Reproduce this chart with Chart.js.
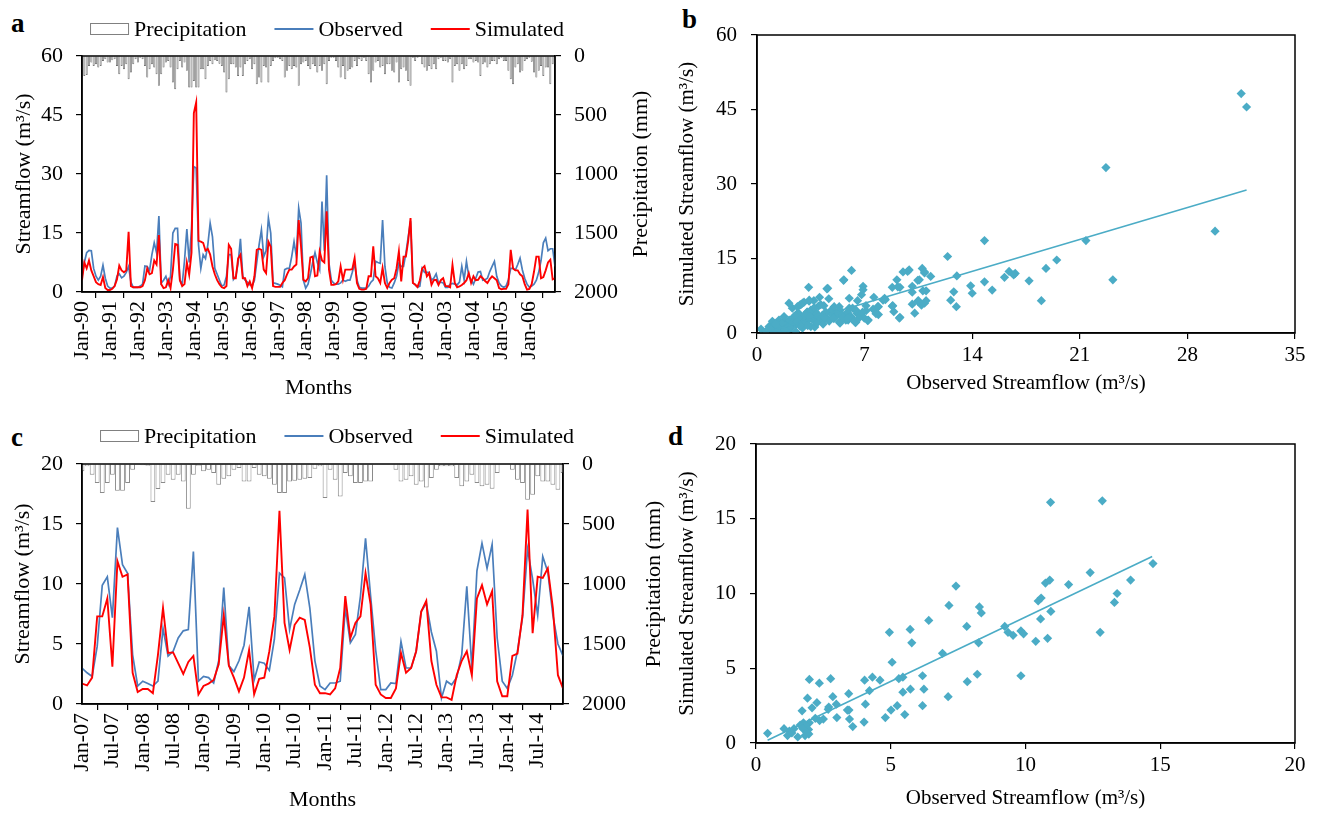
<!DOCTYPE html>
<html><head><meta charset="utf-8">
<script src="https://cdn.jsdelivr.net/npm/chart.js@4.4.1/dist/chart.umd.min.js"></script>
<style>
body{margin:0;background:#fff;width:1317px;height:813px;overflow:hidden;position:relative;font-family:"Liberation Serif","Times New Roman",serif}
canvas{position:absolute}
.lbl{position:absolute;font:bold 27px "Liberation Serif","Times New Roman",serif;color:#000;line-height:27px}
</style></head><body>
<div class="lbl" style="left:11px;top:10px">a</div>
<div class="lbl" style="left:682px;top:6px">b</div>
<div class="lbl" style="left:11px;top:424px">c</div>
<div class="lbl" style="left:668px;top:423px">d</div>
<canvas id="ca" style="left:0;top:0;width:660px;height:410px" width="660" height="410"></canvas>
<canvas id="cb" style="left:660px;top:0;width:657px;height:405px" width="657" height="405"></canvas>
<canvas id="cc" style="left:0;top:405px;width:674px;height:408px" width="674" height="408"></canvas>
<canvas id="cd" style="left:660px;top:405px;width:657px;height:408px" width="657" height="408"></canvas>
<script>
// ---------- Panel a: monthly 1990-2006 ----------
const tickLabelsA = ['Jan-90','Jan-91','Jan-92','Jan-93','Jan-94','Jan-95','Jan-96','Jan-97','Jan-98','Jan-99','Jan-00','Jan-01','Jan-02','Jan-03','Jan-04','Jan-05','Jan-06'];
const observedA = [
4.0,7.5,10.0,10.6,10.5,6.0,4.0,3.0,4.0,6.8,3.5,1.5,
1.0,1.0,1.5,4.0,4.6,3.6,4.0,5.0,6.5,2.5,1.2,1.2,
1.2,1.5,2.0,6.6,6.5,5.5,9.5,12.5,10.0,19.3,2.3,3.0,
4.0,2.0,4.0,15.0,16.2,16.2,3.0,2.0,8.0,16.0,7.5,16.0,
31.85,31.5,12.0,6.0,9.5,8.5,12.0,17.5,14.0,6.0,4.5,3.0,
1.5,1.8,4.0,9.5,9.5,3.2,4.0,7.3,13.5,4.0,3.0,2.5,
1.8,1.5,3.0,7.5,12.0,15.8,9.0,10.5,18.8,15.0,2.3,2.2,
2.0,1.7,1.3,5.7,6.0,6.0,9.0,12.8,9.0,21.3,17.5,3.0,
1.0,2.0,4.5,7.5,10.0,7.5,5.7,23.0,10.5,29.7,7.3,3.0,
2.3,2.0,2.0,2.3,3.1,2.7,3.0,3.0,5.0,7.3,3.1,1.2,
1.0,1.0,1.0,1.5,2.5,3.1,7.8,7.5,7.3,18.3,6.5,2.3,
1.2,1.0,2.3,4.0,7.3,6.5,6.5,9.8,14.0,18.0,2.3,1.8,
1.2,1.5,6.0,5.0,5.0,5.0,3.0,3.5,4.6,2.3,2.5,2.3,
1.2,1.2,2.0,2.2,2.0,1.8,2.5,6.5,3.1,7.8,4.0,3.1,
2.0,3.5,5.1,5.2,3.0,3.1,3.5,5.2,6.5,7.8,4.0,2.3,
1.5,1.2,1.5,3.1,6.0,6.0,5.6,7.0,8.6,5.6,3.5,2.0,
1.2,1.5,2.0,3.0,5.0,8.0,12.5,13.7,10.5,11.0,11.0,6.5];
const simulatedA = [
3.0,7.5,6.0,8.0,5.5,4.0,2.5,2.0,1.8,3.8,1.0,0.5,
0.5,0.8,1.5,3.2,6.7,5.5,5.0,5.5,15.3,1.5,1.2,1.2,
1.2,1.2,1.5,3.0,6.0,4.5,4.8,8.0,7.0,14.5,2.0,1.0,
1.2,3.0,1.0,5.6,12.2,12.0,3.0,1.5,2.0,7.5,4.4,10.0,
45.5,48.2,13.0,12.8,12.5,10.5,11.0,9.5,6.5,4.5,3.0,2.0,
1.2,1.0,1.5,12.0,11.0,3.5,3.5,8.5,9.5,3.5,3.5,1.5,
2.7,1.0,4.0,10.7,11.0,10.7,5.7,4.8,12.8,11.5,1.5,1.3,
1.3,1.3,2.3,3.0,4.5,5.7,5.7,6.5,7.0,18.3,11.5,3.1,
2.7,3.5,8.8,9.0,4.0,4.2,10.3,8.0,7.5,20.5,5.7,1.8,
1.8,2.0,2.7,6.5,3.1,5.7,5.7,5.7,5.8,8.6,2.3,0.8,
0.6,0.6,0.8,4.0,4.0,11.6,4.0,3.5,2.3,6.1,2.3,1.0,
2.3,3.1,3.5,6.0,10.3,2.7,9.0,9.0,13.0,18.8,2.3,1.9,
1.3,3.0,6.0,6.6,4.0,4.8,1.8,3.0,3.1,1.8,3.0,3.5,
1.5,1.5,1.2,6.9,2.3,1.2,1.4,1.8,2.3,3.0,4.8,2.3,
4.0,3.0,3.1,4.0,3.5,2.8,2.3,3.3,4.0,3.5,3.0,1.0,
0.7,0.8,0.8,2.0,10.7,6.0,5.5,5.5,4.5,4.0,2.0,0.6,
0.8,2.0,5.2,9.0,9.0,3.5,3.8,5.5,7.5,8.2,3.2,3.5];
const precipitationA = [
177,169,160,84,56,84,70,98,84,42,28,56,
56,37,28,84,155,84,112,70,197,140,70,28,
56,14,28,84,183,112,70,98,155,253,155,98,
56,42,98,225,281,112,42,98,56,126,267,267,
211,267,267,112,112,197,84,42,70,37,42,65,
84,140,309,197,70,70,98,169,98,169,70,42,
28,112,70,239,183,225,84,98,225,84,42,20,
14,28,42,183,126,84,112,84,98,253,70,56,
42,84,112,70,84,140,84,126,70,239,42,14,
14,42,98,183,84,197,126,112,98,42,84,28,
42,14,42,155,225,126,56,42,98,84,155,70,
70,126,140,56,225,112,98,126,211,253,14,42,
14,5,70,98,126,84,112,70,112,28,14,42,
42,56,28,225,84,70,126,70,112,84,28,28,
56,42,56,169,70,56,98,70,42,42,70,28,
14,42,42,126,197,239,98,70,140,126,42,28,
14,48,140,183,126,84,169,98,98,239,70,70];

// ---------- Panel c: monthly 2007-2014 ----------
const tickLabelsC = ['Jan-07','Jul-07','Jan-08','Jul-08','Jan-09','Jul-09','Jan-10','Jul-10','Jan-11','Jul-11','Jan-12','Jul-12','Jan-13','Jul-13','Jan-14','Jul-14'];
const observedC = [
3.0,2.6,2.3,4.8,9.9,10.6,7.2,14.7,11.6,10.9,4.1,1.5,
1.9,1.7,1.5,1.9,6.3,4.0,4.4,5.5,6.1,6.2,12.7,1.9,
2.3,2.2,1.75,3.6,9.7,3.2,2.7,3.6,4.9,8.1,2.0,3.5,
3.4,2.8,5.4,10.9,10.5,6.2,8.3,9.5,10.8,8.0,3.6,1.5,
1.2,1.75,1.75,1.9,8.0,5.1,5.8,9.0,13.8,9.0,4.5,1.2,
1.2,1.75,1.7,5.2,3.0,3.0,4.4,7.7,8.4,6.0,4.4,0.5,
1.9,1.6,2.2,4.1,9.8,3.0,11.1,13.4,11.3,13.3,5.5,1.9,
1.3,2.4,4.4,7.2,12.9,10.4,7.4,12.3,11.0,7.4,5.0,4.0];
const simulatedC = [
1.7,1.55,2.2,7.3,7.3,8.8,3.1,11.9,10.6,10.8,2.6,1.0,
1.25,1.25,0.9,4.1,8.0,4.25,4.3,3.4,2.5,3.5,4.0,0.8,
1.5,1.7,2.0,3.3,7.4,3.2,2.2,1.05,2.2,4.5,0.8,2.1,
2.2,4.4,7.3,16.1,6.75,4.5,6.6,7.2,7.0,4.7,1.6,0.9,
0.9,0.8,1.3,3.0,9.0,5.5,6.75,7.3,10.9,8.3,1.6,0.8,
0.5,0.5,1.3,4.25,2.6,3.0,4.4,7.7,8.6,3.6,1.6,0.55,
0.55,0.35,2.4,3.6,4.4,2.4,8.8,9.9,8.3,9.4,1.9,0.65,
0.65,4.0,4.2,7.4,16.2,5.9,10.6,10.5,11.3,8.0,2.4,1.3];
const precipitationC = [
61,19,89,158,242,158,89,222,222,158,47,6,
11,14,317,208,158,89,131,89,145,372,89,14,
61,47,75,172,122,103,47,33,145,145,33,89,
103,122,172,242,242,145,139,131,122,117,39,19,
284,47,131,270,75,103,158,158,145,145,6,6,
6,6,47,145,131,103,172,145,195,117,47,19,
19,19,117,186,145,89,158,186,172,206,75,6,
6,47,131,158,297,256,103,145,145,172,214,75];

// ---------- Panel b: scatter (calibration) ----------
const observedB = [31.5,31.85,22.7,29.8,23.15,21.4,19.5,18.8,18.5,17.7,16.8,16.4,16.7,16.1,15.3,14.8,14.8,14.0,13.9,13.0,12.97,12.8,12.6,12.4,11.3,11.0,11.0,10.9,10.75,10.56,10.5,10.7,10.26,10.1,10.1,10.1,9.9,9.8,9.5,9.3,9.3,9.1,8.8,8.9,8.8,8.3,8.2,7.9,7.9,7.6,7.55,7.24,7.1,6.9,6.9,6.8,6.54,6.5,6.4,6.15,6.0,6.0,5.93,5.65,5.4,5.4,5.2,4.86,4.67,4.6,4.44,4.35,4.07,4.0,3.76,3.7,3.36,3.4,3.25,3.06,2.78,2.64,2.08,2.4,2.24,1.8,1.7,1.05,0.26,1.35,
1.0,1.2,1.54,1.65,1.87,2.09,2.2,2.41,2.52,2.74,2.85,2.96,3.07,3.17,3.28,3.39,3.5,3.61,3.72,3.83,3.94,4.15,4.26,4.48,4.59,4.8,4.91,5.13,5.24,5.35,5.57,5.78,5.89,6.11,6.22,6.44,6.65,6.87,6.44,1.43,1.76,2.3,2.63,2.96,3.5,0.78,0.57,1.1,2.0,2.52,1.54,5.35,5.02,7.09,
5.63,4.55,2.85,3.39,3.72,4.15,6.98,7.2,7.74,7.85,8.35,8.83,9.16,9.26,10.46,10.46,10.9,10.79,10.9,
1.3,1.9,2.3,2.7,3.0,3.3,3.9,4.3,4.7,5.0,1.6,2.1,2.5,2.8,3.1,3.6,4.0,4.4,0.9,1.4,1.8,1.2,2.6,3.4,5.6,6.2,6.6,5.9];
const simulatedB = [48.2,45.5,33.3,20.5,10.7,18.6,14.7,13.0,6.5,10.5,12.0,12.4,11.7,11.2,8.65,10.3,18.6,8.0,9.5,11.5,5.3,8.3,6.6,15.4,11.4,8.5,6.5,12.3,13.0,10.7,6.5,5.6,4.0,9.4,8.2,5.8,12.7,12.4,12.3,3.15,9.2,10.7,9.2,4.3,5.4,7.0,6.6,5.3,3.7,7.2,4.8,2.6,4.5,9.4,8.7,7.7,6.5,4.0,2.1,12.6,7.0,5.0,2.6,10.7,2.0,4.6,4.0,4.7,6.9,9.0,2.95,5.5,7.2,5.4,1.2,6.5,9.2,6.6,4.2,6.2,5.6,4.0,6.0,2.6,1.7,2.35,1.2,2.0,0.8,0.3,
2.36,1.0,1.3,0.3,2.0,2.6,1.0,3.3,1.7,3.9,2.4,1.0,3.3,2.0,4.2,2.8,1.3,3.6,2.4,4.2,3.0,2.6,3.6,4.2,2.8,3.9,4.6,3.3,4.2,2.2,3.6,2.6,4.2,3.3,5.0,2.2,3.6,4.2,4.6,2.6,3.3,5.0,5.3,6.0,4.6,1.3,0.3,0.3,0.6,0.3,0.6,5.3,5.3,5.5,
10.6,8.9,5.7,6.4,5.1,5.7,3.0,2.5,3.9,5.3,6.7,5.5,9.3,3.0,10.6,6.4,12.1,8.5,6.0,
1.6,1.4,2.1,2.9,2.2,1.5,2.0,1.8,2.4,2.9,1.9,1.2,3.5,1.4,3.6,2.9,3.4,3.1,0.8,0.9,0.7,1.8,2.2,3.3,3.1,2.8,2.9,3.0];
const trendB = [{x:0.47,y:0},{x:31.85,y:28.8}];

// ---------- Panel d: scatter (validation) ----------
const observedD = [12.85,10.93,14.73,12.4,13.9,11.6,10.74,10.9,13.4,13.3,7.42,7.16,8.29,8.36,10.47,10.58,10.56,10.94,7.82,6.41,9.23,9.35,9.54,9.83,9.93,10.38,10.82,12.77,4.95,5.72,5.78,5.05,6.92,8.26,8.21,7.84,7.13,9.83,6.18,6.23,6.18,5.73,5.45,5.45,5.24,5.01,4.8,5.52,5.3,4.6,4.32,4.03,4.21,4.06,4.01,3.59,3.44,3.45,3.47,3.39,3.0,2.98,2.85,2.77,2.7,2.68,2.5,2.35,2.36,2.26,2.2,2.08,1.98,1.91,1.98,1.71,1.76,1.85,1.95,1.82,1.96,1.55,1.41,1.24,1.17,1.04,1.33,0.43,1.64,1.74,1.89];
const simulatedD = [16.2,16.1,12.0,11.4,10.9,10.6,10.7,10.9,10.0,9.4,10.5,9.2,9.1,8.7,9.5,9.7,8.3,8.8,7.8,8.2,7.8,7.4,7.2,7.5,7.3,6.8,7.0,7.4,7.4,7.6,6.7,5.4,6.0,6.7,4.6,4.1,3.1,4.5,4.5,3.6,2.5,3.6,4.4,3.4,2.5,2.2,1.7,1.9,4.3,4.2,4.4,4.2,3.5,2.6,1.4,1.1,3.3,2.2,1.6,2.2,1.7,2.6,3.1,4.3,2.4,2.25,1.6,4.0,1.5,2.7,1.65,2.35,4.25,3.0,1.35,2.15,1.35,1.2,0.9,0.5,0.6,0.4,0.96,0.8,0.5,0.96,0.67,0.65,1.2,0.96,0.7];
const trendD = [{x:0.43,y:0.18},{x:14.7,y:12.48}];

// ---------- styling helpers ----------
const FAM = '"Liberation Serif","Times New Roman",serif';
const F = (s) => ({family: FAM, size: s, weight: 'normal'});
Chart.defaults.color = '#000';
Chart.defaults.font.family = FAM;
const BLUE = '#4a7ebb', RED = '#ff0000', AQUA = '#4bacc6';

const frame = {id:'frame', afterDatasetsDraw(chart){
  const {ctx, chartArea:a} = chart; ctx.save(); ctx.strokeStyle='#000'; ctx.lineWidth=1.5;
  ctx.strokeRect(a.left, a.top, a.right-a.left, a.bottom-a.top); ctx.restore(); }};

// legend drawn from dataset styles (Excel-like spacing)
const excelLegend = {id:'excelLegend', afterDraw(chart, args, o){
  if (!o || !o.cy) return;
  const ctx = chart.ctx; ctx.save();
  ctx.font = '22px ' + FAM; ctx.textBaseline = 'middle'; ctx.textAlign = 'left';
  const sym = 39, gap1 = 5, gap2 = 28;
  const items = chart.data.datasets.map(ds => ({text:ds.label, bar:ds.type==='bar', color:ds.borderColor, w:ctx.measureText(ds.label).width}));
  let total = 0; items.forEach((it,i) => { total += sym + gap1 + it.w + (i ? gap2 : 0); });
  let x = o.cx - total/2; const y = o.cy;
  items.forEach(it => {
    if (it.bar) { ctx.fillStyle='#fff'; ctx.fillRect(x, y-6, sym, 12); ctx.strokeStyle='#808080'; ctx.lineWidth=1; ctx.strokeRect(x+0.5, y-5.5, sym-1, 11); }
    else { ctx.strokeStyle=it.color; ctx.lineWidth=2; ctx.beginPath(); ctx.moveTo(x, y); ctx.lineTo(x+sym, y); ctx.stroke(); }
    x += sym + gap1; ctx.fillStyle = '#000'; ctx.fillText(it.text, x, y+1); x += it.w + gap2;
  });
  ctx.restore(); }};

// right-axis title, reading bottom-to-top like the left one
const rightTitle = {id:'rightTitle', afterDraw(chart, args, o){
  if (!o || !o.text) return;
  const ctx = chart.ctx, a = chart.chartArea; ctx.save();
  ctx.font = o.size + 'px ' + FAM; ctx.fillStyle = '#000'; ctx.textAlign='center'; ctx.textBaseline='middle';
  ctx.translate(chart.width - o.offset, (a.top + a.bottom)/2); ctx.rotate(-Math.PI/2);
  ctx.fillText(o.text, 0, 0); ctx.restore(); }};

function axis(extra){
  return Object.assign({
    border:{display:true, color:'#000', width:1.5},
    grid:{display:true, drawOnChartArea:false, drawTicks:true, tickLength:6, color:'#000', lineWidth:1.2},
  }, extra);
}

function timeChart(id, obs, sim, pre, labels, step, opt){
  const last = obs.length - 1;
  return new Chart(document.getElementById(id), {
    type:'line',
    data:{datasets:[
      {type:'bar', label:'Precipitation', data:pre.map((v,i)=>({x:i,y:v})), yAxisID:'y2', xAxisID:'x',
       backgroundColor:opt.barFill, borderColor:opt.barEdge, borderWidth:opt.barBorder, barPercentage:opt.barPct, categoryPercentage:1, grouped:false, order:3},
      {type:'line', label:'Observed', data:obs.map((v,i)=>({x:i,y:v})), yAxisID:'y', borderColor:BLUE, backgroundColor:BLUE, borderWidth:1.7, pointRadius:0, tension:0, order:2},
      {type:'line', label:'Simulated', data:sim.map((v,i)=>({x:i,y:v})), yAxisID:'y', borderColor:RED, backgroundColor:RED, borderWidth:1.9, pointRadius:0, tension:0, order:1}
    ]},
    options:{
      responsive:false, animation:false, events:[],
      layout:{padding:{top:opt.padTop, left:0, right:0, bottom:0}},
      plugins:{legend:{display:false}, tooltip:{enabled:false},
        excelLegend:{cx:opt.legCx, cy:opt.legCy},
        rightTitle:{text:'Precipitation (mm)', size:22, offset:opt.rtOffset}},
      scales:{
        x: axis({type:'linear', min:0, max:last, offset:false,
          afterFit(s){ s.height = opt.xH; },
          ticks:{font:F(22), color:'#000', stepSize:step, autoSkip:false, minRotation:90, maxRotation:90, padding:3,
            callback:(v)=> (v % step === 0 && labels[v/step] !== undefined) ? labels[v/step] : ''},
          title:{display:true, text:'Months', font:F(22), padding:{top:0, bottom:opt.monthsPad}}}),
        y: axis({position:'left', min:0, max:opt.yMax, afterFit(s){ s.width = 82; },
          ticks:{font:F(22), color:'#000', stepSize:opt.yStep, padding:13},
          title:{display:true, text:'Streamflow (m³/s)', font:F(22), padding:{top:opt.yTitlePad, bottom:0}}}),
        y2: axis({position:'right', reverse:true, min:0, max:2000, afterFit(s){ s.width = opt.y2W; },
          ticks:{font:F(22), color:'#000', stepSize:500, padding:13, callback:(v)=>String(v)},
          title:{display:false}})
      }
    },
    plugins:[frame, excelLegend, rightTitle]
  });
}

timeChart('ca', observedA, simulatedA, precipitationA, tickLabelsA, 12,
  {barFill:'#b8b8b8', barEdge:'#5a5a5a', barBorder:0.7, barPct:0.85, padTop:56, xH:118, monthsPad:9,
   legCx:327, legCy:29, rtOffset:19,
   yMax:60, yStep:15, yTitlePad:11, y2W:105});
timeChart('cc', observedC, simulatedC, precipitationC, tickLabelsC, 6,
  {barFill:'#ffffff', barEdge:'#8a8a8a', barBorder:1, barPct:0.95, padTop:59, xH:109, monthsPad:0,
   legCx:337, legCy:31, rtOffset:20,
   yMax:20, yStep:5, yTitlePad:10, y2W:111});

function scatterChart(id, obs, sim, trend, opt){
  return new Chart(document.getElementById(id), {
    type:'scatter',
    data:{datasets:[
      {type:'scatter', data:obs.map((v,i)=>({x:v, y:sim[i]})), pointStyle:'rectRot', pointRadius:4.6,
       backgroundColor:AQUA, borderColor:AQUA, borderWidth:0, order:2},
      {type:'line', data:trend, borderColor:AQUA, borderWidth:1.6, pointRadius:0, showLine:true, order:1}
    ]},
    options:{
      responsive:false, animation:false, events:[],
      layout:{padding:{top:opt.top, right:22, left:0, bottom:0}},
      plugins:{legend:{display:false}, tooltip:{enabled:false}},
      scales:{
        x: axis({type:'linear', min:0, max:opt.xMax, afterFit(s){ s.height = opt.xH; },
          ticks:{font:F(21), color:'#000', stepSize:opt.xStep, padding:4},
          title:{display:true, text:'Observed Streamflow (m³/s)', font:F(21), padding:{top:0, bottom:opt.xTitlePad}}}),
        y: axis({type:'linear', min:0, max:opt.yMax, afterFit(s){ s.width = opt.yW; },
          ticks:{font:F(21), color:'#000', stepSize:opt.yStep, padding:14},
          title:{display:true, text:'Simulated Streamflow (m³/s)', font:F(21), padding:{top:15, bottom:0}}})
      }
    },
    plugins:[frame]
  });
}
scatterChart('cb', observedB, simulatedB, trendB, {top:35, xMax:35, xStep:7, yMax:60, yStep:15, xH:72, yW:97, xTitlePad:9});
scatterChart('cd', observedD, simulatedD, trendD, {top:39, xMax:20, xStep:5, yMax:20, yStep:5, xH:70, yW:96, xTitlePad:2});
</script>
</body></html>
